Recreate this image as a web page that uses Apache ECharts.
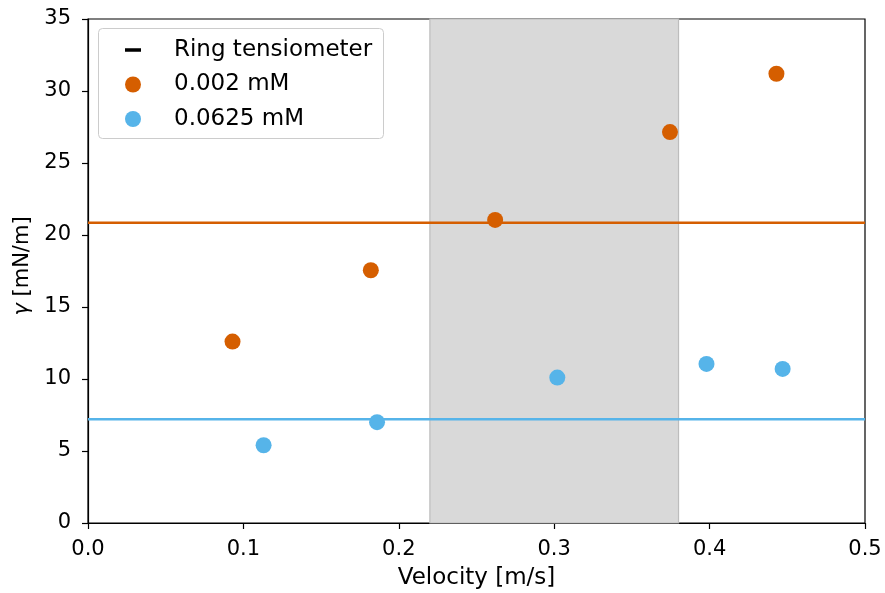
<!DOCTYPE html>
<html>
<head>
<meta charset="utf-8">
<script src="https://cdn.jsdelivr.net/npm/echarts@6/dist/echarts.min.js"></script>
</head>
<body style="margin:0">
<div id="main" style="width:885px;height:593px;"></div>
<script>
// data
var lowVel = [0.093, 0.182, 0.262, 0.3745, 0.443]
var lowGamma = [12.6, 17.55, 21.05, 27.15, 31.2]
var highVel = [0.113, 0.186, 0.302, 0.398, 0.447]
var highGamma = [5.4, 7.0, 10.1, 11.05, 10.7]
var ringLow = 20.85   // ring tensiometer, 0.002 mM
var ringHigh = 7.2    // ring tensiometer, 0.0625 mM
var shadeFrom = 0.22
var shadeTo = 0.38
var xTicks = [0, 0.5, 0.1]
var yTicks = [0, 35, 5]

var ORANGE = '#D55E00'
var BLUE = '#56B4E9'
var FONT = 'DejaVu Sans'

function pairs (xs, ys) {
  return xs.map(function (x, i) { return [x, ys[i]] })
}

var myChart = echarts.init(document.getElementById('main'))
myChart.setOption({
  animation: false,
  textStyle: { fontFamily: FONT },
  grid: {
    left: 88,
    right: 20,
    top: 19,
    bottom: 70,
    outerBoundsMode: 'none', // keep the plot box fixed
    show: true,
    borderColor: '#000',
    borderWidth: 1.2,
    backgroundColor: 'transparent'
  },
  graphic: [
    {
      type: 'rect',
      left: 98,
      top: 28,
      shape: { width: 285, height: 110, r: 4 },
      style: { fill: '#fff', stroke: '#ccc', lineWidth: 1 },
      z: 90
    }
  ],
  legend: {
    orient: 'vertical',
    left: 125,
    top: 38.5,
    padding: 0,
    itemWidth: 16,
    itemHeight: 16,
    itemGap: 11.5,
    z: 100,
    selectedMode: false,
    textStyle: {
      fontFamily: FONT,
      fontSize: 23,
      color: '#000',
      padding: [0, 0, 0, 28]
    },
    data: [
      { name: 'Ring tensiometer', icon: 'path://M0,0h10v2.2h-10z', itemStyle: { color: '#000' } },
      { name: '0.002 mM', icon: 'circle' },
      { name: '0.0625 mM', icon: 'circle' }
    ]
  },
  xAxis: {
    type: 'value',
    min: xTicks[0],
    max: xTicks[1],
    interval: xTicks[2],
    name: 'Velocity [m/s]',
    nameLocation: 'middle',
    nameGap: 44,
    nameTextStyle: { fontSize: 23, color: '#000', fontFamily: FONT },
    axisLine: { lineStyle: { color: '#000', width: 1.2 } },
    axisTick: { show: true, length: 6, lineStyle: { color: '#000', width: 1.2 } },
    axisLabel: {
      fontSize: 21,
      color: '#000',
      margin: 16,
      formatter: function (v) { return v.toFixed(1) }
    },
    splitLine: { show: false }
  },
  yAxis: {
    type: 'value',
    min: yTicks[0],
    max: yTicks[1],
    interval: yTicks[2],
    name: '{g|γ} [mN/m]',
    nameLocation: 'middle',
    nameGap: 53,
    nameTextStyle: {
      fontSize: 21,
      color: '#000',
      fontFamily: FONT,
      padding: [0, 0, 0, 10],
      rich: { g: { fontSize: 21, fontStyle: 'italic', fontFamily: FONT, color: '#000' } }
    },
    axisLine: { lineStyle: { color: '#000', width: 1.2 } },
    axisTick: { show: true, length: 6, lineStyle: { color: '#000', width: 1.2 } },
    axisLabel: { fontSize: 21, color: '#000', margin: 17 },
    splitLine: { show: false }
  },
  series: [
    {
      name: 'shade',
      type: 'line',
      data: [],
      markArea: {
        silent: true,
        itemStyle: { color: '#d9d9d9', borderColor: '#bdbdbd', borderWidth: 1.2 },
        data: [[{ xAxis: shadeFrom }, { xAxis: shadeTo }]]
      },
      z: 1
    },
    {
      name: 'ringLow',
      type: 'line',
      data: [[xTicks[0], ringLow], [xTicks[1], ringLow]],
      symbol: 'none',
      lineStyle: { color: ORANGE, width: 2.5 },
      itemStyle: { color: ORANGE },
      z: 3
    },
    {
      name: 'ringHigh',
      type: 'line',
      data: [[xTicks[0], ringHigh], [xTicks[1], ringHigh]],
      symbol: 'none',
      lineStyle: { color: BLUE, width: 2.5 },
      itemStyle: { color: BLUE },
      z: 3
    },
    {
      name: 'Ring tensiometer',
      type: 'line',
      data: [],
      itemStyle: { color: '#000' },
      lineStyle: { color: '#000' }
    },
    {
      name: '0.002 mM',
      type: 'scatter',
      data: pairs(lowVel, lowGamma),
      symbolSize: 16,
      itemStyle: { color: ORANGE, opacity: 1 },
      z: 5
    },
    {
      name: '0.0625 mM',
      type: 'scatter',
      data: pairs(highVel, highGamma),
      symbolSize: 16,
      itemStyle: { color: BLUE, opacity: 1 },
      z: 5
    }
  ]
})
</script>
</body>
</html>
